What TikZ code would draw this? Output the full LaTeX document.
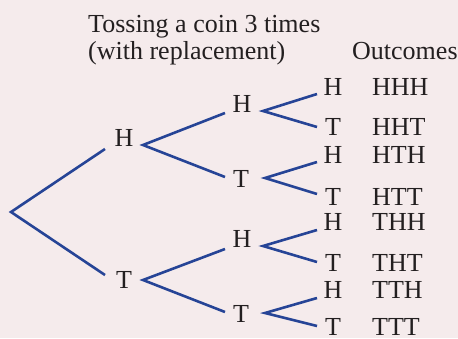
\documentclass[tikz,border=0pt]{standalone}
\usepackage{fontspec}
\setmainfont{Liberation Serif}
\usetikzlibrary{positioning}
\definecolor{bgpink}{RGB}{245,235,236}
\definecolor{branch}{RGB}{38,68,150}
\definecolor{ink}{RGB}{35,31,32}

\begin{document}
\begin{tikzpicture}[x=1pt,y=-1pt,
  lbl/.style={anchor=base,inner sep=0pt,text=ink,font=\fontsize{26}{30}\selectfont},
  txt/.style={anchor=base west,inner sep=0pt,text=ink,font=\fontsize{26}{30}\selectfont},
  arm/.style={draw=branch,line width=2.6pt,line join=miter}]
  \fill[bgpink] (0,0) rectangle (458,338);
  \useasboundingbox (0,0) rectangle (458,338);
  \clip (0,0) rectangle (458,338);
  % heading
  \node[txt] (title1) at (88,32) {Tossing a coin 3 times};
  \node[txt] (title2) at (88,59) {(with replacement)};
  \node[txt] (outc) at (352,59) {Outcomes};
  % root of the tree
  \coordinate (r-out) at (11,212);
  % first and second toss: name/letter/x/baseline/in/out
  \foreach \n/\l/\x/\y/\ix/\iy/\ox/\oy in {
      rH/H/124/146.5/105/149/143/145, rT/T/124/288/105/275/143/280,
      rHH/H/242/112/225/113/263/111, rHT/T/241/187/225/177/265/178,
      rTH/H/242/247/225/249/263/246, rTT/T/241/322/225/312/265/313} {
    \node[lbl] (\n) at (\x,\y) {\l};
    \coordinate (\n-in) at (\ix,\iy);
    \coordinate (\n-out) at (\ox,\oy);
  }
  % third toss and outcomes
  \foreach \o/\l/\y/\iy in {HHH/H/95/94, HHT/T/135/127, HTH/H/163/162, HTT/T/205/194,
      THH/H/230/230, THT/T/271/262, TTH/H/298/298, TTT/T/335/326} {
    \node[lbl] (r\o) at (333,\y) {\l};
    \coordinate (r\o-in) at (317,\iy);
    \node[txt] (o\o) at (372,\y) {\o};
  }
  % branches
  \foreach \p in {r,rH,rT,rHH,rHT,rTH,rTT}
    \draw[arm] (\p H-in) -- (\p-out) -- (\p T-in);
\end{tikzpicture}
\end{document}
